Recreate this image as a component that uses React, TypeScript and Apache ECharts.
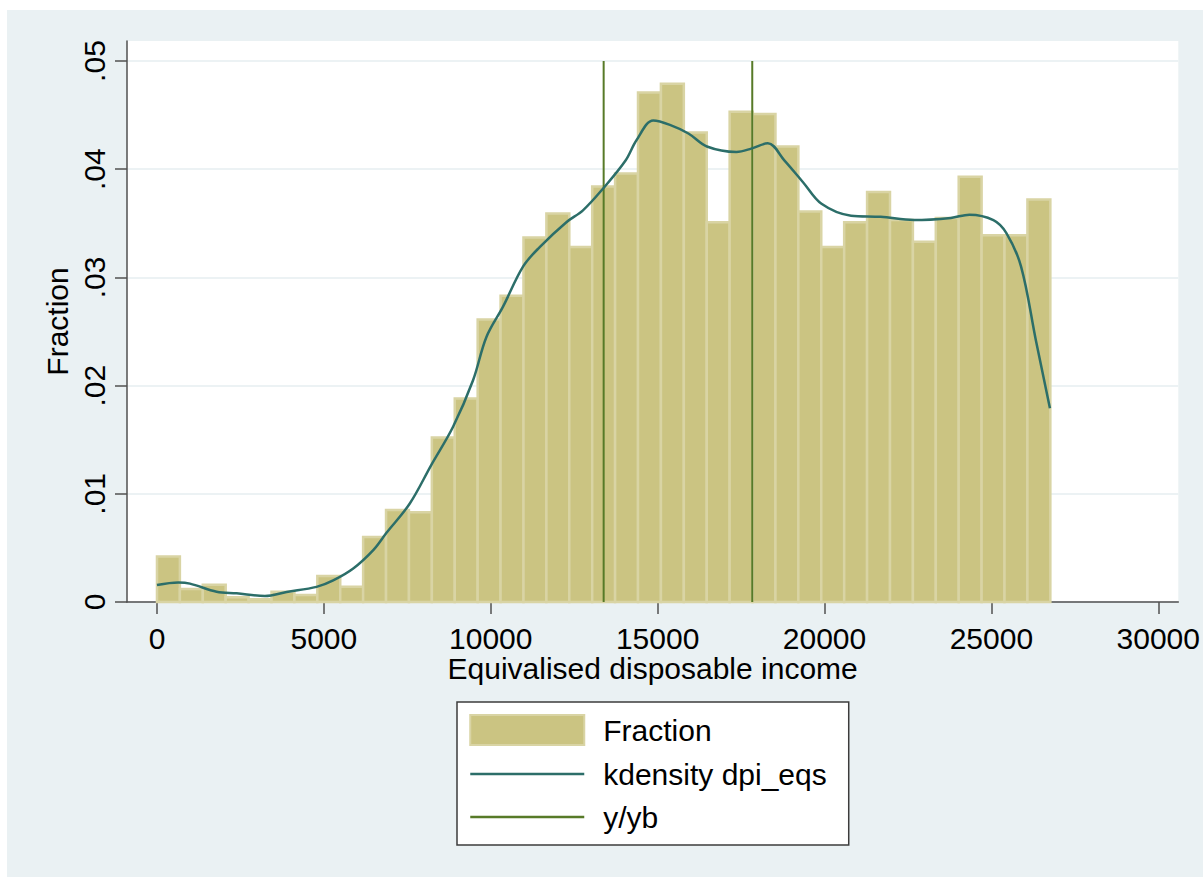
import React, { useEffect, useRef } from "react";
import * as echarts from "echarts";

// Histogram bins (lower edge = binStart + i * binWidth)
const binStart = 0;
const binWidth = 686.3;
const fractions = [
  0.0042, 0.0012, 0.0016, 0.00043, 0.00025, 0.00095, 0.00065, 0.0024, 0.0014,
  0.006, 0.0085, 0.0083, 0.0152, 0.0188, 0.0261, 0.0283, 0.0337, 0.0359, 0.0328,
  0.0384, 0.0396, 0.0471, 0.0479, 0.0434, 0.0351, 0.0453, 0.0451, 0.0421, 0.0361,
  0.0328, 0.0351, 0.0379, 0.0353, 0.0333, 0.0355, 0.0393, 0.0339, 0.0339, 0.0372,
];

// kdensity curve points [income, value]
const kdensity: [number, number][] = [
  [0, 0.00157], [638, 0.0018], [988, 0.0017], [1787, 0.00095], [2386, 0.0008],
  [3234, 0.00055], [3883, 0.00092], [4781, 0.0014], [5280, 0.002], [5880, 0.0031],
  [6480, 0.0048], [6877, 0.0064], [7575, 0.0091], [8225, 0.0127], [8871, 0.0162],
  [9470, 0.0205], [9871, 0.0245], [10368, 0.0273], [10967, 0.031], [11467, 0.0328],
  [12266, 0.0351], [12763, 0.0362], [13362, 0.0382], [14039, 0.0408], [14371, 0.0427],
  [14868, 0.0445], [15368, 0.0441], [15922, 0.0433], [16476, 0.0421], [17362, 0.0416],
  [17805, 0.0419], [18302, 0.0424], [18802, 0.0408], [19356, 0.0388], [19910, 0.0368],
  [20796, 0.0357], [21683, 0.0356], [22680, 0.0353], [23787, 0.0355], [24341, 0.0358],
  [25060, 0.0353], [25449, 0.0341], [25889, 0.031], [26332, 0.0242], [26754, 0.0179],
];

// vertical reference lines (y/yb)
const vlineValues = [13383, 17835];
const vlineTop = 0.05;

const xTicks = [0, 5000, 10000, 15000, 20000, 25000, 30000];
const yTicks = [0, 0.01, 0.02, 0.03, 0.04, 0.05];

const FONT = "'Liberation Sans', Arial, sans-serif";
const BAR_FILL = "#CBC482";
const BAR_EDGE = "#D9D4A4";
const KD_COLOR = "#2C6E69";
const VL_COLOR = "#577A28";
const AXIS_COLOR = "#505050";
const BG = "#EAF1F3";

export default function App() {
  const ref = useRef<HTMLDivElement>(null);

  useEffect(() => {
    if (!ref.current) return;
    const chart = echarts.init(ref.current, undefined, { renderer: "svg" });

    const histData = fractions.map((v, i) => [
      binStart + i * binWidth,
      binStart + (i + 1) * binWidth,
      v,
    ]);

    const vSeries = vlineValues.map((x) => ({
      name: "y/yb",
      type: "line",
      data: [
        [x, 0],
        [x, vlineTop],
      ],
      symbol: "none",
      lineStyle: { color: VL_COLOR, width: 2 },
      itemStyle: { color: VL_COLOR },
      z: 4,
    }));

    const option: any = {
      animation: false,
      backgroundColor: BG,
      textStyle: { fontFamily: FONT },
      grid: {
        left: 120,
        top: 31,
        right: 24,
        bottom: 275,
        show: true,
        backgroundColor: "#ffffff",
        borderWidth: 0,
      },
      legend: {
        left: 450,
        top: 692,
        orient: "vertical",
        selectedMode: false,
        backgroundColor: "#ffffff",
        borderColor: "#3c3c3c",
        borderWidth: 1.5,
        borderRadius: 0,
        padding: [12, 22, 13, 12],
        itemWidth: 114,
        itemHeight: 30,
        itemGap: 13,
        textStyle: {
          fontFamily: FONT,
          fontSize: 30,
          color: "#000",
          padding: [0, 0, 0, 14],
        },
        data: [
          {
            name: "Fraction",
            icon: "rect",
            itemStyle: { color: BAR_FILL, borderColor: BAR_EDGE, borderWidth: 2 },
          },
          {
            name: "kdensity dpi_eqs",
            itemStyle: { opacity: 0 },
            lineStyle: { color: KD_COLOR, width: 2.5, opacity: 1 },
          },
          {
            name: "y/yb",
            itemStyle: { opacity: 0 },
            lineStyle: { color: VL_COLOR, width: 2.5, opacity: 1 },
          },
        ],
      },
      xAxis: {
        type: "value",
        min: -898,
        max: 30599,
        name: "Equivalised disposable income",
        nameLocation: "middle",
        nameGap: 51,
        nameMoveOverlap: false,
        nameTextStyle: { fontFamily: FONT, fontSize: 30, color: "#000" },
        axisLine: { show: true, onZero: false, lineStyle: { color: AXIS_COLOR, width: 1.5 } },
        axisTick: {
          show: true,
          length: 12,
          customValues: xTicks,
          lineStyle: { color: AXIS_COLOR, width: 1.5 },
        },
        axisLabel: {
          customValues: xTicks,
          margin: 21,
          fontFamily: FONT,
          fontSize: 30,
          color: "#000",
          formatter: (v: number) => String(v),
        },
        splitLine: { show: false },
      },
      yAxis: {
        type: "value",
        min: 0,
        max: 0.05185,
        name: "Fraction",
        nameLocation: "middle",
        nameGap: 55,
        nameRotate: 90,
        nameMoveOverlap: false,
        nameTextStyle: { fontFamily: FONT, fontSize: 30, color: "#000" },
        axisLine: { show: true, onZero: false, lineStyle: { color: AXIS_COLOR, width: 1.5 } },
        axisTick: {
          show: true,
          length: 12,
          customValues: yTicks,
          lineStyle: { color: AXIS_COLOR, width: 1.5 },
        },
        axisLabel: {
          customValues: yTicks,
          rotate: 90,
          margin: 18,
          fontFamily: FONT,
          fontSize: 30,
          color: "#000",
          formatter: (v: number) =>
            Math.abs(v) < 1e-9 ? "0" : v.toFixed(2).replace(/^0/, ""),
        },
        splitLine: { show: true, lineStyle: { color: "#E6EEF1", width: 1.5 } },
      },
      series: [
        {
          name: "Fraction",
          type: "custom",
          data: histData,
          encode: { x: [0, 1], y: 2 },
          itemStyle: { color: BAR_FILL },
          z: 2,
          renderItem: (params: any, api: any) => {
            const x0 = api.value(0);
            const x1 = api.value(1);
            const y = api.value(2);
            const p0 = api.coord([x0, y]);
            const p1 = api.coord([x1, 0]);
            return {
              type: "rect",
              shape: {
                x: p0[0],
                y: p0[1],
                width: p1[0] - p0[0],
                height: p1[1] - p0[1],
              },
              style: { fill: BAR_FILL, stroke: BAR_EDGE, lineWidth: 2.5 },
            };
          },
        },
        {
          name: "kdensity dpi_eqs",
          type: "line",
          data: kdensity,
          symbol: "none",
          smooth: 0.35,
          lineStyle: { color: KD_COLOR, width: 2.5 },
          itemStyle: { color: KD_COLOR },
          z: 5,
        },
        ...vSeries,
      ],
    };

    chart.setOption(option);
    return () => chart.dispose();
  }, []);

  return (
    <div
      ref={ref}
      style={{ position: "absolute", left: 7, top: 10, width: 1196, height: 867 }}
    />
  );
}
